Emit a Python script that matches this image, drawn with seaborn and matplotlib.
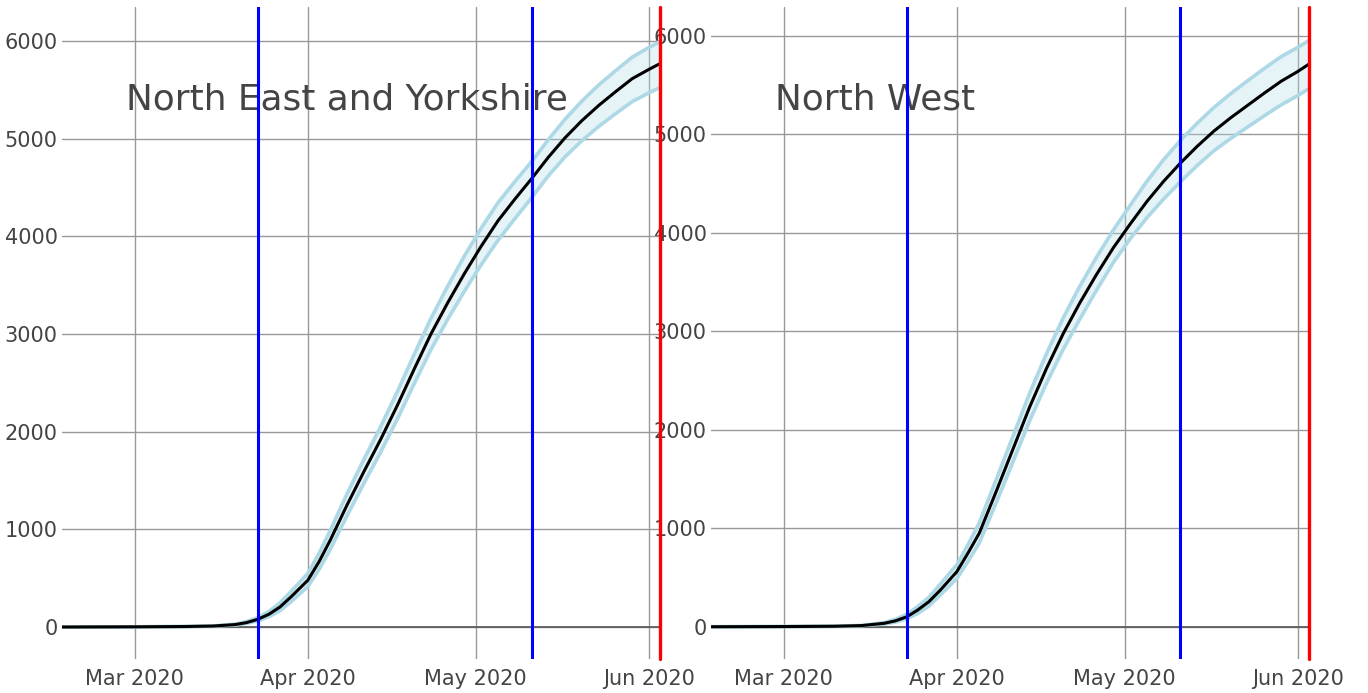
#!/usr/bin/env python3
import pandas as pd
import matplotlib
matplotlib.use("Agg")
import matplotlib.pyplot as plt
import matplotlib.dates as mdates
import seaborn as sns

# -------- DATA --------
dates = ["2020-02-17", "2020-03-01", "2020-03-10", "2020-03-15", "2020-03-19",
         "2020-03-21", "2020-03-23", "2020-03-25", "2020-03-27", "2020-03-29",
         "2020-04-01", "2020-04-03", "2020-04-05", "2020-04-08", "2020-04-11",
         "2020-04-14", "2020-04-17", "2020-04-20", "2020-04-23", "2020-04-26",
         "2020-04-29", "2020-05-02", "2020-05-05", "2020-05-08", "2020-05-11",
         "2020-05-14", "2020-05-17", "2020-05-20", "2020-05-23", "2020-05-26",
         "2020-05-29", "2020-06-01", "2020-06-03"]

ne_median = [0, 2, 5, 10, 25, 45, 78, 130, 205, 310, 480, 670, 890, 1250, 1590,
             1920, 2270, 2640, 3000, 3320, 3620, 3900, 4160, 4380, 4590, 4810,
             5010, 5185, 5340, 5480, 5615, 5710, 5770]
ne_upper = [0, 2, 5, 10, 30, 55, 95, 158, 247, 365, 550, 755, 990, 1365, 1715,
            2050, 2410, 2790, 3160, 3490, 3800, 4085, 4345, 4560, 4765, 4990,
            5200, 5385, 5550, 5695, 5835, 5935, 5995]
ne_lower = [0, 2, 5, 10, 20, 37, 63, 105, 167, 260, 415, 590, 795, 1140, 1470,
            1790, 2130, 2490, 2840, 3150, 3440, 3710, 3960, 4180, 4395, 4620,
            4815, 4980, 5125, 5255, 5380, 5470, 5525]

nw_median = [0, 2, 5, 12, 35, 60, 100, 170, 255, 370, 560, 750, 950, 1370, 1800,
             2230, 2620, 2975, 3290, 3580, 3850, 4090, 4320, 4525, 4710, 4880,
             5035, 5170, 5295, 5420, 5540, 5640, 5715]
nw_upper = [0, 2, 5, 13, 42, 75, 125, 205, 300, 430, 630, 835, 1055, 1490, 1930,
            2370, 2770, 3135, 3460, 3755, 4030, 4280, 4525, 4745, 4940, 5115,
            5275, 5415, 5545, 5670, 5790, 5885, 5955]
nw_lower = [0, 2, 5, 11, 28, 47, 80, 135, 210, 320, 490, 665, 850, 1255, 1670,
            2090, 2470, 2815, 3125, 3420, 3700, 3940, 4155, 4345, 4520, 4685,
            4835, 4960, 5075, 5190, 5300, 5395, 5465]

regions = ["North East and Yorkshire", "North West"]
lockdown_dates = ["2020-03-23", "2020-05-11"]
end_date = "2020-06-03"
ylims = [(-328, 6352), (-328, 6297)]

# -------- STYLE --------
sns.set_style("white")
plt.rcParams["font.family"] = ["DejaVu Sans"]
text_color = "#444444"
grid_color = "#999999"
band_color = "#ADD8E6"

fig = plt.figure(figsize=(13.68, 6.93), dpi=100)
ax_right = fig.add_axes([0.5197, 0.049, 0.4379, 0.9413])
ax_left = fig.add_axes([0.0453, 0.049, 0.4379, 0.9413])
ax_left.set_zorder(2)

series = [(ne_median, ne_upper, ne_lower), (nw_median, nw_upper, nw_lower)]

for ax, region, (med, up, lo), ylim in zip([ax_left, ax_right], regions, series, ylims):
    ax.patch.set_alpha(0)
    df = pd.DataFrame({"date": pd.to_datetime(dates), "median": med,
                       "upper": up, "lower": lo})

    ax.fill_between(df["date"], df["lower"], df["upper"], color=band_color,
                    alpha=0.3, linewidth=0, zorder=2)
    sns.lineplot(data=df, x="date", y="upper", ax=ax, color=band_color,
                 linewidth=2.6, zorder=3)
    sns.lineplot(data=df, x="date", y="lower", ax=ax, color=band_color,
                 linewidth=2.6, zorder=3)
    sns.lineplot(data=df, x="date", y="median", ax=ax, color="black",
                 linewidth=2.2, zorder=4)

    for d in lockdown_dates:
        ax.axvline(pd.Timestamp(d), color="blue", linewidth=2.2, zorder=5)
    ax.axvline(pd.Timestamp(end_date), color="red", linewidth=2.4, zorder=5,
               clip_on=False)

    ax.set_xlim(pd.Timestamp("2020-02-17"), pd.Timestamp("2020-06-03 04:00"))
    ax.set_ylim(*ylim)
    ax.set_yticks([0, 1000, 2000, 3000, 4000, 5000, 6000])
    ax.xaxis.set_major_locator(mdates.MonthLocator())
    ax.xaxis.set_major_formatter(mdates.DateFormatter("%b %Y"))

    ax.grid(True, color=grid_color, linewidth=1.0, zorder=0)
    ax.set_axisbelow(True)
    ax.axhline(0, color="#555555", linewidth=1.2, zorder=1)
    for s in ax.spines.values():
        s.set_visible(False)
    ax.tick_params(length=0, labelsize=15, labelcolor=text_color)
    ax.tick_params(axis="y", pad=3)
    ax.tick_params(axis="x", pad=7)
    ax.set_xlabel("")
    ax.set_ylabel("")

    ax.text(0.107, 0.858, region, transform=ax.transAxes, fontsize=25.8,
            color=text_color, ha="left", va="center", zorder=1)

fig.savefig("out.png", dpi=100)
